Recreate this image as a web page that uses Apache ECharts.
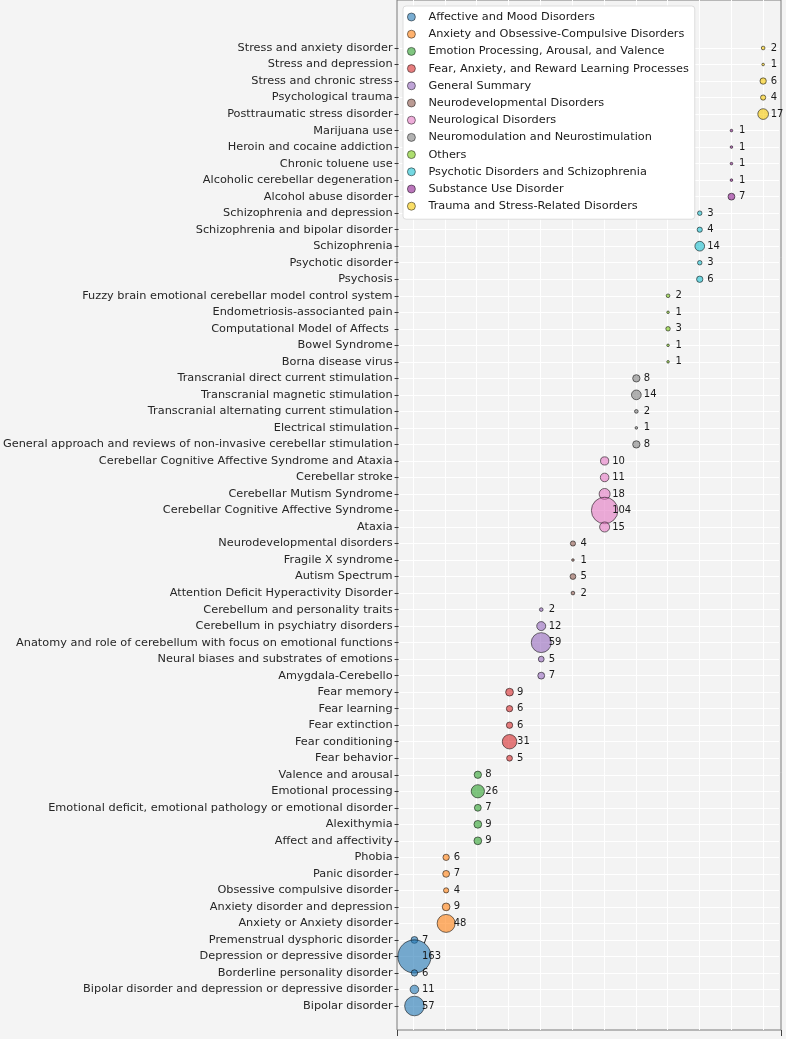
<!DOCTYPE html>
<html>
<head>
<meta charset="utf-8">
<script src="https://cdn.jsdelivr.net/npm/echarts@6/dist/echarts.min.js"></script>
<style>
  html, body { margin: 0; padding: 0; background: #f4f4f4; }
  #chart { width: 786px; height: 1039px; }
</style>
</head>
<body>
<div id="chart"></div>
<script>
// groups on the x axis / legend
const groups = [
  "Affective and Mood Disorders",
  "Anxiety and Obsessive-Compulsive Disorders",
  "Emotion Processing, Arousal, and Valence",
  "Fear, Anxiety, and Reward Learning Processes",
  "General Summary",
  "Neurodevelopmental Disorders",
  "Neurological Disorders",
  "Neuromodulation and Neurostimulation",
  "Others",
  "Psychotic Disorders and Schizophrenia",
  "Substance Use Disorder",
  "Trauma and Stress-Related Disorders"
];
const groupColors = [
  "#1f77b4", "#ff7f0e", "#2ca02c", "#d62728", "#9467bd", "#8c564b",
  "#e377c2", "#7f7f7f", "#76c80f", "#17becf", "#8e1a90", "#f7c800"
];

// rows, top to bottom as in the picture
const rowNames = [
  "Stress and anxiety disorder", "Stress and depression", "Stress and chronic stress",
  "Psychological trauma", "Posttraumatic stress disorder",
  "Marijuana use", "Heroin and cocaine addiction", "Chronic toluene use",
  "Alcoholic cerebellar degeneration", "Alcohol abuse disorder",
  "Schizophrenia and depression", "Schizophrenia and bipolar disorder", "Schizophrenia",
  "Psychotic disorder", "Psychosis",
  "Fuzzy brain emotional cerebellar model control system", "Endometriosis-associanted pain",
  "Computational Model of Affects ", "Bowel Syndrome", "Borna disease virus",
  "Transcranial direct current stimulation", "Transcranial magnetic stimulation",
  "Transcranial alternating current stimulation", "Electrical stimulation",
  "General approach and reviews of non-invasive cerebellar stimulation",
  "Cerebellar Cognitive Affective Syndrome and Ataxia", "Cerebellar stroke",
  "Cerebellar Mutism Syndrome", "Cerebellar Cognitive Affective Syndrome", "Ataxia",
  "Neurodevelopmental disorders", "Fragile X syndrome", "Autism Spectrum",
  "Attention Deficit Hyperactivity Disorder",
  "Cerebellum and personality traits", "Cerebellum in psychiatry disorders",
  "Anatomy and role of cerebellum with focus on emotional functions",
  "Neural biases and substrates of emotions", "Amygdala-Cerebello",
  "Fear memory", "Fear learning", "Fear extinction", "Fear conditioning", "Fear behavior",
  "Valence and arousal", "Emotional processing",
  "Emotional deficit, emotional pathology or emotional disorder", "Alexithymia",
  "Affect and affectivity",
  "Phobia", "Panic disorder", "Obsessive compulsive disorder",
  "Anxiety disorder and depression", "Anxiety or Anxiety disorder",
  "Premenstrual dysphoric disorder", "Depression or depressive disorder",
  "Borderline personality disorder", "Bipolar disorder and depression or depressive disorder",
  "Bipolar disorder"
];
const rowCounts = [
  2, 1, 6, 4, 17,
  1, 1, 1, 1, 7,
  3, 4, 14, 3, 6,
  2, 1, 3, 1, 1,
  8, 14, 2, 1, 8,
  10, 11, 18, 104, 15,
  4, 1, 5, 2,
  2, 12, 59, 5, 7,
  9, 6, 6, 31, 5,
  8, 26, 7, 9, 9,
  6, 7, 4, 9, 48,
  7, 163, 6, 11, 57
];
const rowGroup = [
  11, 11, 11, 11, 11,
  10, 10, 10, 10, 10,
  9, 9, 9, 9, 9,
  8, 8, 8, 8, 8,
  7, 7, 7, 7, 7,
  6, 6, 6, 6, 6,
  5, 5, 5, 5,
  4, 4, 4, 4, 4,
  3, 3, 3, 3, 3,
  2, 2, 2, 2, 2,
  1, 1, 1, 1, 1,
  0, 0, 0, 0, 0
];

var myChart = echarts.init(document.getElementById("chart"));
const font = "DejaVu Sans";

const series = groups.map(function (g, gi) {
  const data = [];
  rowNames.forEach(function (name, i) {
    if (rowGroup[i] === gi) data.push([g, name, rowCounts[i]]);
  });
  return {
    name: g,
    type: "scatter",
    xAxisIndex: 2,
    yAxisIndex: 2,
    data: data,
    symbolSize: function (v) { return 2.6 * Math.sqrt(v[2]); },
    itemStyle: {
      color: groupColors[gi],
      opacity: 0.6,
      borderColor: "#000",
      borderWidth: 0.9
    },
    label: {
      show: true,
      position: "inside",
      align: "left",
      offset: [7.5, 0],
      opacity: 1,
      color: "#1a1a1a",
      fontFamily: font,
      fontSize: 10,
      formatter: function (p) { return p.value[2]; }
    },
    emphasis: { disabled: true }
  };
});

const hidden = {
  axisLine: { show: false },
  axisTick: { show: false },
  axisLabel: { show: false },
  splitLine: { show: false }
};

option = {
  backgroundColor: "#f4f4f4",
  animation: false,
  textStyle: { fontFamily: font },
  legend: {
    orient: "vertical",
    left: 403,
    top: 6,
    padding: [4, 6, 6, 4],
    itemWidth: 24,
    itemHeight: 8,
    itemGap: 3.2,
    selectedMode: false,
    backgroundColor: "#ffffff",
    borderColor: "#dddddd",
    borderWidth: 1,
    borderRadius: 3,
    itemStyle: { borderWidth: 0.8 },
    textStyle: { fontFamily: font, fontSize: 11.3, color: "#1a1a1a", lineHeight: 14 },
    data: groups
  },
  grid: [
    // frame and background
    { left: 397, right: 5, top: -10, bottom: 9, show: true, backgroundColor: "#f3f3f3", borderColor: "#7a7a7a", borderWidth: 1 },
    // vertical grid lines across full height
    { left: 397, right: 7, top: -10, bottom: 9 },
    // data
    { left: 397, right: 7, top: 48, bottom: 33 }
  ],
  xAxis: [
    Object.assign({}, hidden, {
      gridIndex: 0, type: "value", min: 0, max: 1, interval: 1,
      axisTick: { show: true, length: 6, lineStyle: { color: "#444" } }
    }),
    Object.assign({}, hidden, {
      gridIndex: 1, type: "category", data: groups, boundaryGap: true,
      axisLabel: { show: false, interval: 0 },
      splitLine: { show: true, interval: 0, alignWithLabel: true, lineStyle: { color: "#ffffff", width: 1 } }
    }),
    Object.assign({}, hidden, {
      gridIndex: 2, type: "category", data: groups, boundaryGap: true
    })
  ],
  yAxis: [
    Object.assign({}, hidden, { gridIndex: 0, type: "value", min: 0, max: 1 }),
    Object.assign({}, hidden, { gridIndex: 1, type: "value", min: 0, max: 1 }),
    {
      gridIndex: 2,
      type: "category",
      data: rowNames.slice().reverse(),
      boundaryGap: false,
      axisLine: { show: false },
      axisTick: { show: true, length: 4, lineStyle: { color: "#333" } },
      axisLabel: { interval: 0, margin: 6, fontFamily: font, fontSize: 11.3, color: "#262626" },
      splitLine: { show: true, interval: 0, lineStyle: { color: "#ffffff", width: 1 } }
    }
  ],
  series: series
};

option && myChart.setOption(option);
</script>
</body>
</html>
